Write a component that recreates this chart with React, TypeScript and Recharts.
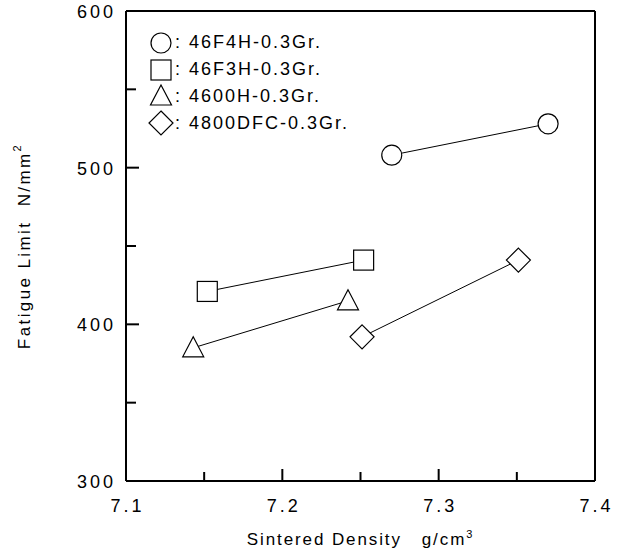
import { ScatterChart, Scatter, XAxis, YAxis, Legend } from 'recharts';

const X_TICKS = [7.1, 7.15, 7.2, 7.25, 7.3, 7.35, 7.4];
const X_LABELS = ['7.1', '7.2', '7.3', '7.4'];
const Y_TICKS = [300, 350, 400, 450, 500, 550, 600];
const Y_LABELS = ['300', '400', '500', '600'];

const SERIES_NAMES = ['46F4H-0.3Gr.', '46F3H-0.3Gr.', '4600H-0.3Gr.', '4800DFC-0.3Gr.'];
const SERIES_SHAPES = ['circle', 'square', 'triangle', 'diamond'];

const F4H_DENSITY = [7.27, 7.37];
const F4H_LIMIT = [508, 528];
const F3H_DENSITY = [7.152, 7.252];
const F3H_LIMIT = [421, 441];
const H4600_DENSITY = [7.143, 7.242];
const H4600_LIMIT = [385, 415];
const DFC_DENSITY = [7.251, 7.351];
const DFC_LIMIT = [392, 441];

const toPoints = (xs: number[], ys: number[]) => xs.map((x, i) => ({ x, y: ys[i] }));
const SERIES_DATA = [
  toPoints(F4H_DENSITY, F4H_LIMIT),
  toPoints(F3H_DENSITY, F3H_LIMIT),
  toPoints(H4600_DENSITY, H4600_LIMIT),
  toPoints(DFC_DENSITY, DFC_LIMIT),
];

const FONT = '"Liberation Sans", Arial, sans-serif';
const LS = 3;

function Marker({ kind, cx, cy }: { kind: string; cx: number; cy: number }) {
  const common = { fill: '#fff', stroke: '#000', strokeWidth: 1.2 };
  if (kind === 'circle') return <circle cx={cx} cy={cy} r={10} {...common} />;
  if (kind === 'square') return <rect x={cx - 10} y={cy - 10} width={20} height={20} {...common} />;
  if (kind === 'triangle')
    return <polygon points={`${cx},${cy - 11} ${cx - 10.5},${cy + 9} ${cx + 10.5},${cy + 9}`} {...common} />;
  return <polygon points={`${cx},${cy - 12} ${cx + 12},${cy} ${cx},${cy + 12} ${cx - 12},${cy}`} {...common} />;
}

const BottomTick = (props: any) => {
  const { x, y, payload } = props;
  const label = String(payload.value);
  const major = X_LABELS.includes(label);
  return (
    <g>
      <line x1={x} x2={x} y1={y} y2={y - (major ? 12 : 9)} stroke="#000" strokeWidth={2} />
      {major && (
        <text x={x + LS / 2} y={y + 31} textAnchor="middle" fontSize={18} letterSpacing={LS} fontFamily={FONT} fill="#000">
          {label}
        </text>
      )}
    </g>
  );
};

const TopTick = (props: any) => {
  const { x, y, payload } = props;
  const major = X_LABELS.includes(String(payload.value));
  return <line x1={x} x2={x} y1={y} y2={y + (major ? 12 : 9)} stroke="#000" strokeWidth={2} />;
};

const LeftTick = (props: any) => {
  const { x, y, payload } = props;
  const label = String(payload.value);
  const major = Y_LABELS.includes(label);
  return (
    <g>
      <line x1={x} x2={x + (major ? 13 : 10)} y1={y} y2={y} stroke="#000" strokeWidth={2} />
      {major && (
        <text x={x - 13 + LS} y={y + 7} textAnchor="end" fontSize={18} letterSpacing={LS} fontFamily={FONT} fill="#000">
          {label}
        </text>
      )}
    </g>
  );
};

const RightTick = (props: any) => {
  const { x, y, payload } = props;
  const major = Y_LABELS.includes(String(payload.value));
  return <line x1={x} x2={x - (major ? 13 : 10)} y1={y} y2={y} stroke="#000" strokeWidth={2} />;
};

function LegendBox() {
  return (
    <div style={{ fontFamily: FONT, fontSize: 18, letterSpacing: 2, color: '#000' }}>
      {SERIES_NAMES.map((name, i) => (
        <div key={name} style={{ height: 26.7, display: 'flex', alignItems: 'center' }}>
          <svg width={26} height={26} style={{ display: 'block' }}>
            <Marker kind={SERIES_SHAPES[i]} cx={13} cy={13} />
          </svg>
          <span style={{ marginLeft: 1, whiteSpace: 'nowrap' }}>: {name}</span>
        </div>
      ))}
    </div>
  );
}

export default function App() {
  return (
    <div style={{ position: 'absolute', left: 0, top: 0, background: '#fff' }}>
      <ScatterChart width={621} height={553} margin={{ top: 10, right: 16, bottom: 0, left: 0 }}>
        <XAxis
          xAxisId="bottom"
          dataKey="x"
          type="number"
          domain={[7.1, 7.4]}
          ticks={X_TICKS}
          interval={0}
          height={72}
          tickSize={0}
          tickMargin={0}
          tickLine={false}
          tick={BottomTick}
          axisLine={{ stroke: '#000', strokeWidth: 2 }}
          label={{
            content: (p: any) => {
              const vb = p.viewBox;
              return (
                <text x={vb.x + vb.width / 2} y={vb.y + 64} textAnchor="middle" fontSize={17} letterSpacing={1.9} fontFamily={FONT} fill="#000">
                  Sintered Density{'\u00a0\u00a0\u00a0'}g/cm
                  <tspan fontSize={11} dy={-7}>3</tspan>
                </text>
              );
            },
          }}
        />
        <XAxis
          xAxisId="top"
          orientation="top"
          dataKey="x"
          type="number"
          domain={[7.1, 7.4]}
          ticks={X_TICKS}
          interval={0}
          height={1}
          tickSize={0}
          tickMargin={0}
          tickLine={false}
          tick={TopTick}
          axisLine={{ stroke: '#000', strokeWidth: 2 }}
        />
        <YAxis
          yAxisId="left"
          dataKey="y"
          type="number"
          domain={[300, 600]}
          ticks={Y_TICKS}
          interval={0}
          width={126}
          tickSize={0}
          tickMargin={0}
          tickLine={false}
          tick={LeftTick}
          axisLine={{ stroke: '#000', strokeWidth: 2 }}
          label={{
            content: (p: any) => {
              const vb = p.viewBox;
              const cx = vb.x + 24;
              const cy = vb.y + vb.height / 2;
              return (
                <text x={cx} y={cy} transform={`rotate(-90 ${cx} ${cy})`} textAnchor="middle" dominantBaseline="central" fontSize={17} letterSpacing={2.4} fontFamily={FONT} fill="#000">
                  Fatigue Limit{'\u00a0\u00a0'}N/mm
                  <tspan fontSize={11} dy={-7}>2</tspan>
                </text>
              );
            },
          }}
        />
        <YAxis
          yAxisId="right"
          orientation="right"
          dataKey="y"
          type="number"
          domain={[300, 600]}
          ticks={Y_TICKS}
          interval={0}
          width={10}
          tickSize={0}
          tickMargin={0}
          tickLine={false}
          tick={RightTick}
          axisLine={{ stroke: '#000', strokeWidth: 2 }}
        />
        {SERIES_DATA.map((data, i) => (
          <Scatter
            key={SERIES_NAMES[i]}
            name={SERIES_NAMES[i]}
            data={data}
            xAxisId="bottom"
            yAxisId="left"
            line={{ stroke: '#000', strokeWidth: 1 }}
            lineType="joint"
            isAnimationActive={false}
            shape={(p: any) => <Marker kind={SERIES_SHAPES[i]} cx={p.cx} cy={p.cy} />}
          />
        ))}
        <Legend
          layout="vertical"
          align="center"
          verticalAlign="middle"
          wrapperStyle={{ left: 148, top: 29.6, width: 'auto' }}
          content={() => <LegendBox />}
        />
      </ScatterChart>
    </div>
  );
}
